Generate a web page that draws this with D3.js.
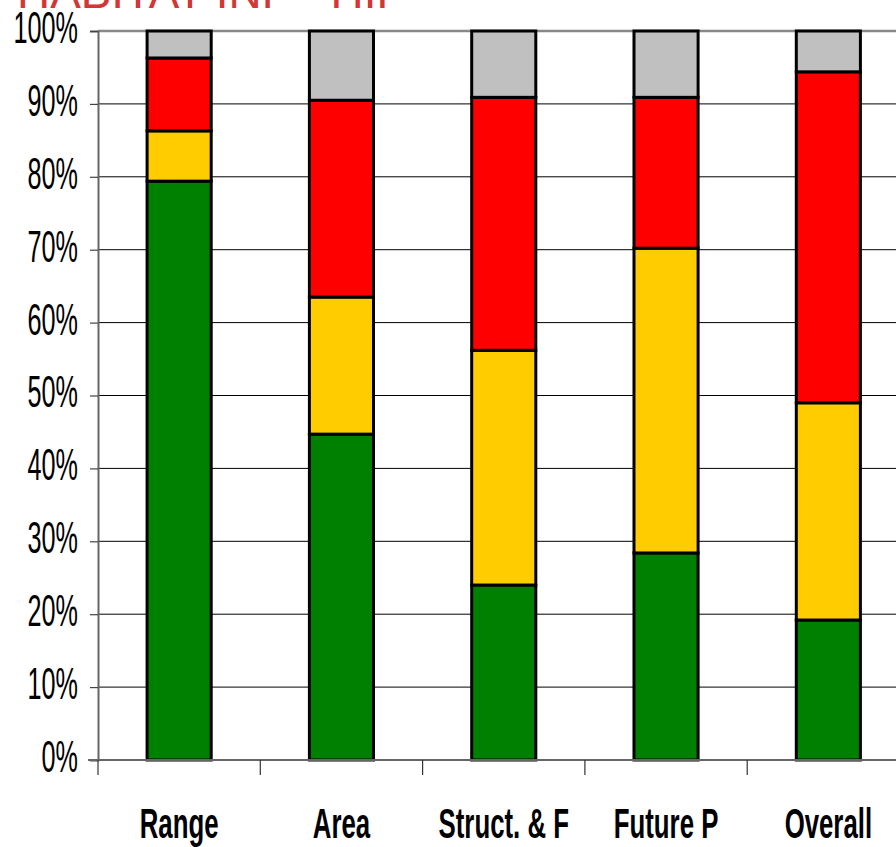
<!DOCTYPE html>
<html>
<head>
<meta charset="utf-8">
<script src="https://cdn.jsdelivr.net/npm/d3@7"></script>
<style>
  html, body { margin: 0; padding: 0; background: #fff; overflow: hidden; }
</style>
</head>
<body>
<div id="chart"></div>
<script>
// chart data
const categories = ['Range', 'Area', 'Struct. & F', 'Future P', 'Overall'];
const seriesNames = ['green', 'amber', 'red', 'grey'];
const greenVals = [79.4, 44.7, 24.0, 28.4, 19.2];
const amberVals = [6.9, 18.8, 32.2, 41.8, 29.8];
const redVals = [10.0, 27.0, 34.7, 20.7, 45.4];
const greyVals = [3.7, 9.5, 9.1, 9.1, 5.6];
const yTicks = [0, 10, 20, 30, 40, 50, 60, 70, 80, 90, 100];
const titleText = 'HABITAT INF - HIP';

const colours = { green: '#008000', amber: '#ffcc00', red: '#ff0000', grey: '#c0c0c0' };

const width = 896, height = 847;
const margin = { top: 31, left: 98, bottom: 87 };
const plotBottom = height - margin.bottom; // 760

const svg = d3.select('#chart').append('svg')
  .attr('width', width)
  .attr('height', height);

// rows for the stack
const rows = categories.map((c, i) => ({
  cat: c, green: greenVals[i], amber: amberVals[i], red: redVals[i], grey: greyVals[i]
}));
const stacked = d3.stack().keys(seriesNames)(rows);

const x = d3.scaleBand()
  .domain(categories)
  .range([margin.left, margin.left + 162.3 * 5])
  .paddingInner(0.605)
  .paddingOuter(0.3025);
const y = d3.scaleLinear().domain([0, 100]).range([plotBottom, margin.top]);

// title, mostly cut off by the top edge
svg.append('text')
  .attr('x', 17)
  .attr('y', 8)
  .attr('fill', '#d43535')
  .attr('font-family', 'Liberation Sans, Arial, sans-serif')
  .attr('font-size', 46)
  .attr('textLength', 390)
  .attr('lengthAdjust', 'spacingAndGlyphs')
  .text(titleText);

// gridlines
svg.append('g')
  .selectAll('line')
  .data(yTicks.filter((t) => t > 0))
  .join('line')
  .attr('x1', margin.left)
  .attr('x2', width)
  .attr('y1', (d) => y(d))
  .attr('y2', (d) => y(d))
  .attr('stroke', (d) => d === 100 ? '#888' : '#000')
  .attr('stroke-width', (d) => d === 100 ? 2.5 : 1);

// y axis
const yAxis = svg.append('g')
  .attr('transform', `translate(${margin.left},0)`)
  .call(d3.axisLeft(y).tickValues(yTicks).tickSize(8).tickPadding(0).tickFormat((d) => d + '%'));
yAxis.select('.domain').attr('stroke', '#666').attr('stroke-width', 2);
yAxis.selectAll('.tick line').attr('stroke', '#444').attr('stroke-width', 1.2);
yAxis.selectAll('.tick text')
  .attr('x', 0)
  .attr('dy', 0)
  .attr('fill', '#000')
  .attr('font-family', 'Liberation Sans, Arial, sans-serif')
  .attr('font-size', 45)
  .attr('text-anchor', 'end')
  .attr('transform', 'translate(-20,-4) scale(0.56,1)')
  .attr('dominant-baseline', 'central');

// bars
svg.append('g')
  .selectAll('g')
  .data(stacked)
  .join('g')
  .attr('fill', (d) => colours[d.key])
  .selectAll('rect')
  .data((d) => d)
  .join('rect')
  .attr('x', (d) => x(d.data.cat))
  .attr('width', x.bandwidth())
  .attr('y', (d) => y(d[1]))
  .attr('height', (d) => y(d[0]) - y(d[1]))
  .attr('stroke', '#000')
  .attr('stroke-width', 3);

// x axis baseline with boundary ticks
const step = x.step();
const boundaries = d3.range(categories.length + 1).map((i) => margin.left + i * step);
svg.append('line')
  .attr('x1', margin.left - 10)
  .attr('x2', width)
  .attr('y1', plotBottom)
  .attr('y2', plotBottom)
  .attr('stroke', '#666')
  .attr('stroke-width', 2);
svg.append('g')
  .selectAll('line')
  .data(boundaries)
  .join('line')
  .attr('x1', (d) => d)
  .attr('x2', (d) => d)
  .attr('y1', plotBottom)
  .attr('y2', plotBottom + 15)
  .attr('stroke', '#333')
  .attr('stroke-width', 1.2);

// category labels
svg.append('g')
  .selectAll('text')
  .data(categories)
  .join('text')
  .attr('transform', (d) => `translate(${x(d) + x.bandwidth() / 2},838) scale(0.6,1)`)
  .attr('text-anchor', 'middle')
  .attr('font-family', 'Liberation Sans, Arial, sans-serif')
  .attr('font-weight', 'bold')
  .attr('font-size', 43)
  .attr('fill', '#000')
  .text((d) => d);
</script>
</body>
</html>
